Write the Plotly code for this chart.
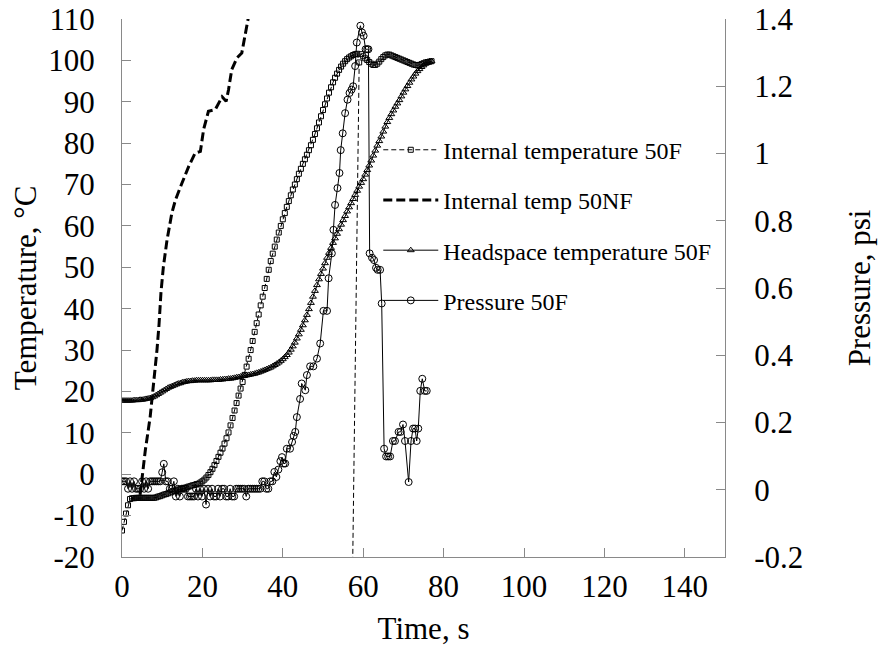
import plotly.graph_objects as go

# ---------------- data ----------------
time_s = [0.0, 0.5, 1.0, 1.5, 2.0, 2.5, 3.0, 3.5, 4.0, 4.5, 5.0, 5.5, 6.0, 6.5, 7.0, 7.5, 8.0, 8.5, 9.0, 9.5,
          10.0, 10.5, 11.0, 11.5, 12.0, 12.5, 13.0, 13.5, 14.0, 14.5, 15.0, 15.5, 16.0, 16.5, 17.0, 17.5, 18.0, 18.5, 19.0, 19.5,
          20.0, 20.5, 21.0, 21.5, 22.0, 22.5, 23.0, 23.5, 24.0, 24.5, 25.0, 25.5, 26.0, 26.5, 27.0, 27.5, 28.0, 28.5, 29.0, 29.5,
          30.0, 30.5, 31.0, 31.5, 32.0, 32.5, 33.0, 33.5, 34.0, 34.5, 35.0, 35.5, 36.0, 36.5, 37.0, 37.5, 38.0, 38.5, 39.0, 39.5,
          40.0, 40.5, 41.0, 41.5, 42.0, 42.5, 43.0, 43.5, 44.0, 44.5, 45.0, 45.5, 46.0, 46.5, 47.0, 47.5, 48.0, 48.5, 49.0, 49.5,
          50.0, 50.5, 51.0, 51.5, 52.0, 52.5, 53.0, 53.5, 54.0, 54.5, 55.0, 55.5, 56.0, 56.5, 57.0, 57.5, 58.0, 58.5, 59.0, 59.5,
          60.0, 60.5, 61.0, 61.5, 62.0, 62.5, 63.0, 63.5, 64.0, 64.5, 65.0, 65.5, 66.0, 66.5, 67.0, 67.5, 68.0, 68.5, 69.0, 69.5,
          70.0, 70.5, 71.0, 71.5, 72.0, 72.5, 73.0, 73.5, 74.0, 74.5, 75.0, 75.5, 76.0, 76.5, 77.0]

# Internal temperature 50F (°C), one value per time_s entry
internal_50f = [-13.6, -11.5, -9.5, -7.5, -6.0, -5.8, -5.8, -5.7, -5.7, -5.7, -5.7, -5.7, -5.7, -5.7, -5.7, -5.7, -5.7, -5.6, -5.4, -5.3,
                -5.1, -4.9, -4.8, -4.6, -4.4, -4.2, -4.0, -3.9, -3.7, -3.6, -3.5, -3.3, -3.2, -3.0, -2.9, -2.7, -2.6, -2.4, -2.3, -2.0,
                -1.7, -1.3, -0.8, -0.2, 0.5, 1.3, 2.2, 3.2, 4.2, 5.2, 6.2, 7.4, 8.7, 10.1, 11.8, 13.6, 15.4, 17.2, 19.0, 20.7,
                22.3, 24.0, 26.0, 27.9, 30.0, 32.2, 34.4, 36.5, 38.6, 40.8, 42.9, 45.0, 47.2, 49.4, 51.5, 53.3, 55.0, 56.7, 58.4, 60.0,
                61.6, 63.1, 64.6, 66.0, 67.4, 68.8, 70.0, 71.3, 72.6, 73.8, 75.0, 76.1, 77.2, 78.3, 79.5, 80.8, 82.2, 83.6, 85.0, 86.5,
                88.0, 89.4, 90.8, 92.2, 93.5, 94.7, 95.8, 96.8, 97.7, 98.5, 99.2, 99.8, 100.3, 100.7, 101.0, 101.3, 101.5, 101.6, 99.5, 101.5,
                101.0, 100.5, 100.1, 99.6, 99.2, 98.9, 98.9, 99.2, 99.7, 100.3, 100.8, 101.2, 101.4, 101.4, 101.2, 101.0, 100.8, 100.6, 100.4, 100.2,
                100.0, 99.8, 99.6, 99.4, 99.2, 99.0, 98.9, 98.8, 98.9, 99.1, 99.3, 99.5, 99.6, 99.7, 99.8]
# stray reading of the 50F internal probe (drawn as the thin dashed drop near 58 s)
stray_t, stray_T = 57.27, -30.0
stray_after_time = 59.0

# Headspace temperature 50F (°C)
headspace_50f = [17.8, 17.8, 17.8, 17.8, 17.8, 17.8, 17.9, 17.9, 17.9, 18.0, 18.0, 18.1, 18.2, 18.3, 18.4, 18.6, 18.8, 19.1, 19.4, 19.7,
                 20.0, 20.3, 20.6, 20.9, 21.1, 21.3, 21.5, 21.7, 21.9, 22.0, 22.2, 22.3, 22.4, 22.5, 22.5, 22.6, 22.6, 22.7, 22.7, 22.7,
                 22.7, 22.7, 22.7, 22.7, 22.7, 22.8, 22.8, 22.8, 22.8, 22.9, 22.9, 23.0, 23.0, 23.1, 23.1, 23.2, 23.3, 23.4, 23.5, 23.6,
                 23.7, 23.8, 23.9, 24.0, 24.1, 24.2, 24.3, 24.5, 24.6, 24.8, 25.0, 25.2, 25.4, 25.6, 25.8, 26.1, 26.4, 26.7, 27.0, 27.4,
                 27.8, 28.3, 28.8, 29.4, 30.1, 30.9, 31.8, 32.8, 33.8, 34.9, 36.0, 37.2, 38.5, 39.9, 41.4, 42.9, 44.3, 45.7, 47.1, 48.4,
                 49.7, 51.0, 52.3, 53.5, 54.7, 55.9, 57.0, 58.1, 59.2, 60.3, 61.4, 62.4, 63.5, 64.5, 65.5, 66.5, 67.5, 68.5, 69.5, 70.4,
                 71.3, 72.4, 73.5, 74.6, 75.8, 77.0, 78.2, 79.4, 80.5, 81.6, 82.8, 84.0, 85.1, 86.1, 87.0, 87.9, 88.8, 89.6, 90.4, 91.3,
                 92.2, 93.0, 93.8, 94.6, 95.4, 96.1, 96.8, 97.4, 97.9, 98.4, 98.8, 99.2, 99.5, 99.7, 99.8]

# Internal temp 50NF (°C), sparse trace without markers
nf_time = [4.5, 5.0, 5.8, 7.0, 7.9, 8.7, 9.2, 9.7, 10.3, 11.2, 12.4, 13.3, 14.9, 16.6, 18.2, 19.5, 20.3, 21.5, 23.2,
           24.0, 24.9, 25.9, 26.5, 27.3, 28.6, 29.8, 30.7, 31.5]
nf_temp = [-5.0, -0.7, 5.8, 13.8, 21.9, 30.0, 36.0, 44.0, 50.2, 56.6, 63.1, 66.3, 70.3, 74.4, 77.6, 78.0, 83.3, 87.7, 88.1,
           89.7, 91.2, 90.1, 92.9, 97.8, 100.6, 101.8, 106.7, 110.7]

# Pressure 50F (psi)
pressure_time = [0.0, 0.5, 1.0, 1.5, 2.0, 2.5, 3.0, 3.5, 4.0, 4.5, 5.0, 5.5, 6.0, 6.5, 7.0, 7.5, 8.0, 8.5, 9.0, 9.5,
                 10.0, 10.4, 10.9, 11.4, 11.9, 12.4, 12.9, 13.4, 13.9, 14.4, 14.9, 15.4, 15.9, 16.4, 16.9, 17.4, 17.9, 18.4, 18.9, 19.4,
                 19.9, 20.4, 20.9, 21.4, 21.9, 22.4, 22.9, 23.4, 23.9, 24.4, 24.9, 25.4, 25.9, 26.4, 26.9, 27.4, 27.9, 28.4, 28.9, 29.4,
                 29.9, 30.4, 30.9, 31.4, 31.9, 32.4, 32.9, 33.4, 33.9, 34.4, 34.9, 35.4, 35.9, 36.4, 36.9, 37.4, 37.9, 38.4, 38.9, 39.4,
                 39.8, 40.2, 40.6, 41.0, 41.8, 42.3, 42.7, 43.1, 43.5, 44.3, 44.7, 45.6, 46.0, 46.8, 47.6, 48.5, 49.3, 50.1, 51.0, 51.4,
                 52.2, 52.6, 53.0, 53.6, 54.1, 54.4, 54.9, 55.5, 56.1, 56.6, 57.1, 57.5, 58.0, 58.4, 59.3, 59.7, 60.1, 60.6, 61.0, 61.3,
                 61.6, 62.2, 62.7, 63.2, 63.6, 64.2, 64.6, 65.2, 65.7, 66.2, 66.7, 67.4, 67.9, 68.8, 69.3, 69.9, 70.4, 71.3, 71.9, 72.4,
                 72.9, 73.3, 73.7, 74.2, 74.7, 75.3, 75.8]
pressure_psi = [0.025, 0.025, 0.025, 0.003, 0.025, 0.003, 0.025, 0.003, 0.003, 0.003, 0.025, 0.003, 0.025, 0.003, 0.025, 0.025, 0.025, 0.025, 0.025, 0.025,
                0.052, 0.077, 0.025, 0.025, 0.003, 0.003, 0.025, -0.02, 0.003, -0.02, 0.003, 0.003, 0.003, -0.02, -0.02, -0.02, -0.02, 0.003, -0.02, 0.003,
                -0.02, 0.003, -0.044, 0.003, -0.02, 0.003, -0.02, -0.02, 0.003, -0.02, 0.003, 0.003, -0.02, -0.02, 0.003, -0.02, -0.02, 0.003, 0.003, 0.003,
                0.003, 0.003, -0.02, 0.003, 0.003, 0.003, 0.003, 0.003, 0.003, 0.003, 0.025, 0.025, 0.003, 0.003, 0.025, 0.025, 0.053, 0.038, 0.06, 0.085,
                0.097, 0.078, 0.078, 0.122, 0.122, 0.142, 0.16, 0.172, 0.216, 0.27, 0.316, 0.296, 0.341, 0.367, 0.367, 0.39, 0.435, 0.532, 0.532, 0.629,
                0.703, 0.773, 0.847, 0.897, 0.942, 1.01, 1.06, 1.12, 1.16, 1.18, 1.19, 1.20, 1.26, 1.33, 1.38, 1.36, 1.35, 1.31, 1.31, 1.31,
                0.703, 0.69, 0.683, 0.66, 0.654, 0.654, 0.554, 0.122, 0.099, 0.099, 0.099, 0.145, 0.145, 0.172, 0.172, 0.194, 0.145, 0.023, 0.145, 0.182,
                0.182, 0.145, 0.182, 0.294, 0.33, 0.294, 0.294]

x_ticks = [0, 20, 40, 60, 80, 100, 120, 140]
temp_ticks = [-20, -10, 0, 10, 20, 30, 40, 50, 60, 70, 80, 90, 100, 110]
temp_tick_text = ["-20", "-10", "0", "10", "20", "30", "40", "50", "60", "70", "80", "90", "100", "110"]
psi_ticks = [-0.2, 0.0, 0.2, 0.4, 0.6, 0.8, 1.0, 1.2, 1.4]
psi_tick_text = ["-0.2", "0", "0.2", "0.4", "0.6", "0.8", "1", "1.2", "1.4"]

names = ["Internal temperature 50F", "Internal temp 50NF", "Headspace temperature 50F", "Pressure 50F"]

# ---------------- figure ----------------
FONT = "Liberation Serif, Times New Roman, serif"
AXC = "#898989"
FS = 31

# split the 50F internal trace at the stray reading
k = time_s.index(stray_after_time) + 1
int_x = time_s[:k] + [stray_t, None] + time_s[k:]
int_y = internal_50f[:k] + [stray_T, None] + internal_50f[k:]

fig = go.Figure()
fig.add_trace(go.Scatter(
    x=int_x, y=int_y, name=names[0], legendgroup="a", mode="lines+markers",
    line=dict(color="black", width=1, dash="5px,3px"),
    marker=dict(symbol="square-open", size=5, color="black", line=dict(width=1, color="black")),
    connectgaps=False))
fig.add_trace(go.Scatter(
    x=nf_time, y=nf_temp, name=names[1], legendgroup="b", mode="lines",
    line=dict(color="black", width=3, dash="9px,4px")))
fig.add_trace(go.Scatter(
    x=time_s, y=headspace_50f, name=names[2], legendgroup="c", mode="lines+markers",
    line=dict(color="black", width=1),
    marker=dict(symbol="triangle-up-open", size=6, color="black", line=dict(width=1, color="black"))))
fig.add_trace(go.Scatter(
    x=pressure_time, y=pressure_psi, name=names[3], legendgroup="d", mode="lines+markers", yaxis="y2",
    line=dict(color="black", width=1),
    marker=dict(symbol="circle-open", size=7, color="black", line=dict(width=1, color="black"))))

axis_common = dict(showline=True, linecolor=AXC, linewidth=1, ticks="inside", ticklen=9, tickcolor=AXC,
                   tickwidth=1, showgrid=False, zeroline=False, automargin=False,
                   ticklabeloverflow="allow",
                   tickfont=dict(family=FONT, size=FS, color="black"))

fig.update_layout(
    width=881, height=657,
    margin=dict(l=122, r=156, t=19, b=100),
    paper_bgcolor="white", plot_bgcolor="white",
    font=dict(family=FONT, size=FS, color="black"),
    xaxis=dict(range=[0, 150], tickvals=x_ticks, ticklabelstandoff=2,
               title=dict(text="Time, s", font=dict(family=FONT, size=FS), standoff=14), **axis_common),
    yaxis=dict(range=[-20, 110], tickvals=temp_ticks, ticktext=temp_tick_text, ticklabelstandoff=20,
               title=dict(text="Temperature, °C", font=dict(family=FONT, size=FS), standoff=2), **axis_common),
    yaxis2=dict(range=[-0.2, 1.4], tickvals=psi_ticks, ticktext=psi_tick_text, overlaying="y", side="right",
                ticklabelstandoff=22,
                title=dict(text="Pressure, psi", font=dict(family=FONT, size=FS), standoff=46), **axis_common),
    legend=dict(x=0.425, y=0.798, xanchor="left", yanchor="top", bgcolor="rgba(0,0,0,0)",
                font=dict(family=FONT, size=24, color="black"), traceorder="grouped",
                tracegroupgap=16, itemwidth=55),
    showlegend=True,
)

# remove the browser's default 8 px body margin so the 881x657 figure fills the window exactly
fig.write_html("out.html", config={"displayModeBar": False},
               post_script="document.body.style.margin='0px';document.body.style.overflow='hidden';")
